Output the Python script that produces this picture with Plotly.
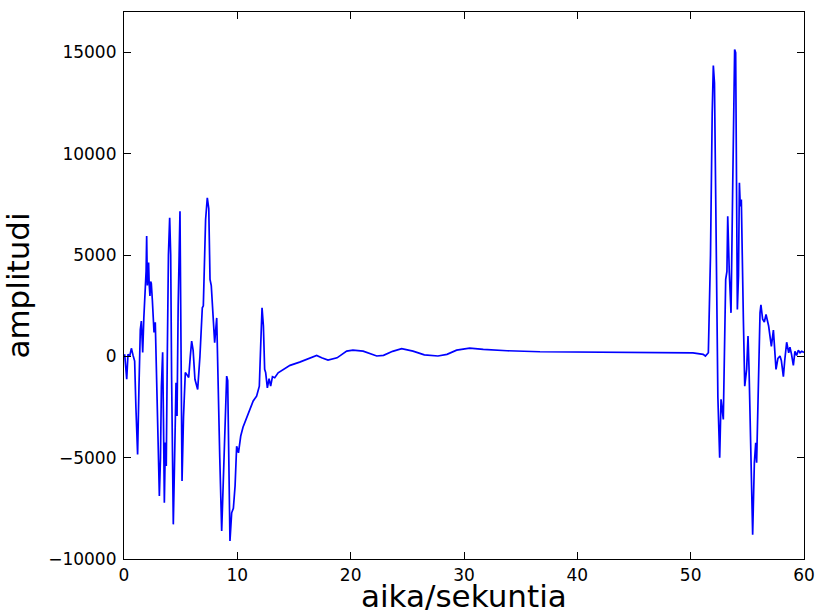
import plotly.graph_objects as go

# time (s) and amplitude
time_s = [
    0.0, 0.06, 0.24, 0.35, 0.5, 0.65, 0.8, 0.94, 1.05, 1.2,
    1.32, 1.44, 1.53, 1.65, 1.75, 1.88, 1.95, 2.0, 2.06, 2.12,
    2.17, 2.22, 2.29, 2.35, 2.41, 2.5, 2.65, 2.76, 2.82, 2.88,
    3.0, 3.12, 3.22, 3.3, 3.41, 3.48, 3.56, 3.65, 3.73, 3.82,
    3.92, 4.03, 4.12, 4.2, 4.35, 4.45, 4.59, 4.68, 4.78, 4.94,
    5.03, 5.12, 5.25, 5.41, 5.55, 5.71, 5.85, 5.97, 6.1, 6.26,
    6.5, 6.7, 6.91, 7.0, 7.2, 7.35, 7.48, 7.59, 7.7, 7.82,
    8.0, 8.18, 8.3, 8.45, 8.62, 8.75, 8.91, 9.06, 9.15, 9.35,
    9.5, 9.65, 9.8, 9.94, 10.1, 10.3, 10.5, 10.82, 11.1, 11.4,
    11.7, 11.94, 12.06, 12.18, 12.3, 12.41, 12.5, 12.65, 12.8, 12.94,
    13.1, 13.3, 13.6, 14.1, 14.65, 15.5, 16.4, 17.0, 17.44, 18.0,
    18.8, 19.65, 20.2, 21.1, 22.3, 22.9, 23.7, 24.5, 25.5, 26.5,
    27.7, 28.5, 29.35, 30.5, 31.7, 33.8, 36.7, 39.6, 42.6, 44.9,
    48.5, 50.2, 51.1, 51.3, 51.56, 51.75, 51.9, 52.0, 52.1, 52.25,
    52.4, 52.56, 52.68, 52.88, 53.0, 53.09, 53.2, 53.27, 53.41, 53.56,
    53.7, 53.8, 53.88, 53.97, 54.04, 54.12, 54.22, 54.3, 54.38, 54.47,
    54.65, 54.77, 54.94, 55.06, 55.15, 55.3, 55.47, 55.62, 55.74, 55.82,
    55.95, 56.12, 56.2, 56.35, 56.5, 56.65, 56.88, 57.12, 57.3, 57.53,
    57.7, 57.88, 58.0, 58.18, 58.3, 58.47, 58.65, 58.76, 58.9, 59.06,
    59.2, 59.35, 59.5, 59.65, 59.8, 60.0,
]
amplitude = [
    0, 100, -1130, 100, 0, 400, 50, -230, -2500, -4840,
    -1500, 1330, 1740, 200, 1900, 3300, 4200, 5940, 3500, 4300,
    4630, 3600, 2980, 3700, 3600, 2800, 1180, 1680, 500, -1130,
    -4000, -6890, -5000, -1500, 200, -3000, -7220, -4250, -5410, 0,
    5000, 6840, 5000, -1000, -8290, -5500, -1300, -2940, 2500, 7170,
    1000, -6150, -3000, -800, -900, -1040, 0, 760, 300, -1130,
    -1630, 0, 2400, 2500, 6760, 7830, 7300, 3800, 3500, 2400,
    680, 1900, -1500, -5000, -8620, -6000, -3750, -970, -1200, -9110,
    -7720, -7500, -6400, -4430, -4760, -3930, -3500, -3030, -2620, -2200,
    -1960, -1470, 510, 2400, 1500, -640, -800, -1550, -1100, -1470,
    -1000, -1050, -810, -650, -440, -280, -70, 50, -70, -180,
    -70, 260, 310, 260, 20, 50, 250, 380, 260, 80,
    20, 100, 310, 410, 350, 280, 230, 210, 210, 180,
    180, 170, 100, 20, 180, 5000, 12000, 14360, 13500, 5000,
    -2000, -5000, -2120, -3110, 0, 3800, 4200, 6920, 4130, 2150,
    8000, 12000, 15150, 14990, 10000, 2320, 4000, 8570, 7400, 7750,
    1830, -1470, -640, 1000, -600, -5000, -8800, -5250, -4260, -5250,
    -1500, 2150, 2550, 1830, 1700, 2070, 1500, 500, 1300, -640,
    -100, 20, -200, -1000, -200, 700, 180, 450, 100, -440,
    250, 50, 300, 180, 250, 200,
]
assert len(time_s) == len(amplitude)

x_ticks = [0, 10, 20, 30, 40, 50, 60]
x_tick_labels = ["0", "10", "20", "30", "40", "50", "60"]
y_ticks = [-10000, -5000, 0, 5000, 10000, 15000]
y_tick_labels = ["\u221210000", "\u22125000", "0", "5000", "10000", "15000"]
x_title = "aika/sekuntia"
y_title = "amplitudi"

fig = go.Figure()
fig.add_trace(go.Scatter(
    x=time_s, y=amplitude, mode="lines",
    line=dict(color="#0000ff", width=1.7),
    showlegend=False,
))

axis_common = dict(
    showline=True, linecolor="black", linewidth=1.2, mirror="ticks",
    ticks="inside", ticklen=7, tickwidth=1, tickcolor="black",
    showgrid=False, zeroline=False, automargin=False,
    tickfont=dict(family="DejaVu Sans", size=17, color="black"),
)

fig.update_layout(
    width=817, height=613,
    margin=dict(l=124, r=13, t=12, b=54),
    paper_bgcolor="white", plot_bgcolor="white",
    font=dict(family="DejaVu Sans", color="black"),
    xaxis=dict(
        range=[0, 60], tickvals=x_ticks, ticktext=x_tick_labels,
        **axis_common,
    ),
    yaxis=dict(
        range=[-10000, 17000], tickvals=y_ticks, ticktext=y_tick_labels,
        title=dict(text=y_title, font=dict(size=31), standoff=14),
        ticklabelstandoff=3,
        **axis_common,
    ),
)

# x-axis title as an annotation placed just under the tick labels
fig.add_annotation(
    text=x_title, xref="paper", yref="paper", x=0.5, y=0,
    xanchor="center", yanchor="middle", yshift=-37, showarrow=False,
    font=dict(family="DejaVu Sans", size=31, color="black"),
)

fig.write_html("out.html")
